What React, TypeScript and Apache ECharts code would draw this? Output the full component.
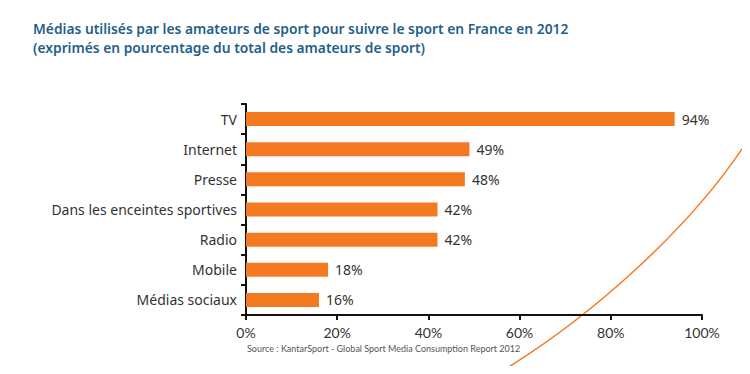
import React, { useEffect, useRef } from "react";
import * as echarts from "echarts";

const categories = [
  "TV",
  "Internet",
  "Presse",
  "Dans les enceintes sportives",
  "Radio",
  "Mobile",
  "Médias sociaux",
];
const values = [94, 49, 48, 42, 42, 18, 16];
const titleLines = [
  "Médias utilisés par les amateurs de sport pour suivre le sport en France en 2012",
  "(exprimés en pourcentage du total des amateurs de sport)",
];
const sourceText = "Source : KantarSport - Global Sport Media Consumption Report 2012";

const ORANGE = "#f47a22";
const TITLE_BLUE = "#1f5f8a";
const FONT = "Lato, 'Noto Sans', sans-serif";
const WIDE = "'Noto Sans', sans-serif";

export default function App() {
  const ref = useRef<HTMLDivElement>(null);
  useEffect(() => {
    if (!ref.current) return;
    const chart = echarts.init(ref.current, undefined, { renderer: "svg" });
    chart.setOption({
      animation: false,
      backgroundColor: "#ffffff",
      textStyle: { fontFamily: FONT },
      grid: { left: 246, right: 48, top: 104, bottom: 59 },
      xAxis: {
        type: "value",
        min: 0,
        max: 100,
        interval: 20,
        axisLine: { show: true, lineStyle: { color: "#111", width: 2 } },
        axisTick: { show: true, length: 5, lineStyle: { color: "#111", width: 2 } },
        splitLine: { show: false },
        axisLabel: {
          formatter: "{value}%",
          color: "#333",
          fontSize: 14,
          margin: 10,
          fontFamily: FONT,
        },
      },
      yAxis: {
        type: "category",
        inverse: true,
        data: categories,
        axisLine: { show: true, lineStyle: { color: "#111", width: 2 } },
        axisTick: { show: true, length: 5, lineStyle: { color: "#111", width: 2 } },
        axisLabel: { color: "#333", fontSize: 14, margin: 9, fontFamily: WIDE },
      },
      series: [
        {
          type: "bar",
          data: values,
          barWidth: 14,
          itemStyle: { color: ORANGE },
          label: {
            show: true,
            position: "right",
            distance: 7,
            formatter: "{c}%",
            color: "#333",
            fontSize: 14,
            fontFamily: WIDE,
          },
        },
      ],
      graphic: [
        {
          type: "bezierCurve",
          silent: true,
          shape: { x1: 494, y1: 376, cpx1: 588, cpy1: 320, cpx2: 695, cpy2: 226, x2: 753, y2: 132 },
          style: { stroke: ORANGE, lineWidth: 1.5, fill: "none" },
          z: -1,
        },
        {
          type: "text",
          left: 33,
          top: 19,
          style: {
            text: titleLines.join("\n"),
            fill: TITLE_BLUE,
            font: `600 13.8px ${WIDE}`,
            lineHeight: 19,
          },
        },
        {
          type: "text",
          left: 247,
          top: 344,
          style: { text: sourceText, fill: "#555", font: `9px ${FONT}` },
        },
      ],
    });
    return () => chart.dispose();
  }, []);
  return <div ref={ref} style={{ width: 750, height: 374, margin: -8 }} />;
}
